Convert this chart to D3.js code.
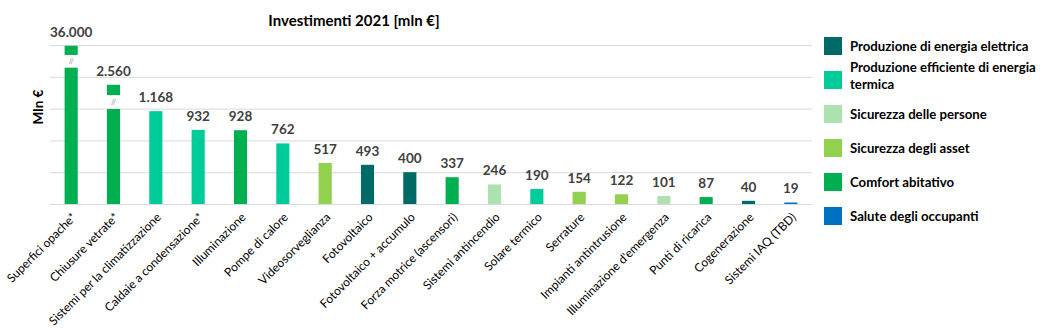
<!DOCTYPE html>
<html>
<head>
<meta charset="utf-8">
<script src="https://cdn.jsdelivr.net/npm/d3@7"></script>
<style>
  body { margin: 0; background: #fff; }
  svg text { font-family: Lato, "Open Sans", sans-serif; }
</style>
</head>
<body>
<svg width="1047" height="336"></svg>
<script>
// categories and values (mln €)
var categories = ["Superfici opache*", "Chiusure vetrate*", "Sistemi per la climatizzazione",
  "Caldaie a condensazione*", "Illuminazione", "Pompe di calore", "Videosorveglianza",
  "Fotovoltaico", "Fotovoltaico + accumulo", "Forza motrice (ascensori)", "Sistemi antincendio",
  "Solare termico", "Serrature", "Impianti antintrusione", "Illuminazione d'emergenza",
  "Punti di ricarica", "Cogenerazione", "Sistemi IAQ (TBD)"];
var values = [36000, 2560, 1168, 932, 928, 762, 517, 493, 400, 337, 246, 190, 154, 122, 101, 87, 40, 19];
var labels = ["36.000", "2.560", "1.168", "932", "928", "762", "517", "493", "400", "337", "246", "190", "154", "122", "101", "87", "40", "19"];
// group of each bar (index into groups)
var barGroup = [4, 4, 1, 1, 4, 1, 3, 0, 0, 4, 2, 1, 3, 3, 2, 4, 0, 5];
var groups = ["Produzione di energia elettrica", "Produzione efficiente di energia termica",
  "Sicurezza delle persone", "Sicurezza degli asset", "Comfort abitativo", "Salute degli occupanti"];
var groupColors = ["#006A66", "#00CC99", "#ADE2B0", "#92D050", "#00B050", "#0070C0"];
// broken bars: shown height of lower part, and the small top piece
var breakLower = {0: 1715, 1: 1195};
var breakPiece = {0: [1875, 1990], 1: [1370, 1500]};
var gridTicks = [0, 400, 800, 1200, 1600, 2000];

var svg = d3.select("svg"),
    margin = {top: 45, left: 50},
    width = 762,
    height = 159;
var g = svg.append("g").attr("transform", "translate(" + margin.left + "," + margin.top + ")");

var x = d3.scaleBand().domain(categories).range([0, width]).paddingInner(0.69).paddingOuter(0.345);
var y = d3.scaleLinear().domain([0, 2000]).range([height, 0]);

// gridlines
g.selectAll(".grid").data(gridTicks).enter().append("line")
    .attr("x1", 0).attr("x2", width)
    .attr("y1", function(d) { return y(d) + 0.5; })
    .attr("y2", function(d) { return y(d) + 0.5; })
    .attr("stroke", "#d9d9d9").attr("stroke-width", 1);

var bars = g.selectAll(".bar").data(categories).enter().append("g").attr("class", "bar");

bars.append("rect")
    .attr("x", function(d) { return x(d); })
    .attr("width", x.bandwidth())
    .attr("y", function(d, i) { return y(i in breakLower ? breakLower[i] : values[i]); })
    .attr("height", function(d, i) { return height - y(i in breakLower ? breakLower[i] : values[i]); })
    .attr("fill", function(d, i) { return groupColors[barGroup[i]]; });

// top pieces of broken bars
var broken = Object.keys(breakPiece).map(Number);
g.selectAll(".piece").data(broken).enter().append("rect")
    .attr("x", function(i) { return x(categories[i]); })
    .attr("width", x.bandwidth())
    .attr("y", function(i) { return y(breakPiece[i][1]); })
    .attr("height", function(i) { return y(breakPiece[i][0]) - y(breakPiece[i][1]); })
    .attr("fill", function(i) { return groupColors[barGroup[i]]; });

g.selectAll(".brk").data(broken).enter().append("text")
    .attr("x", function(i) { return x(categories[i]) + x.bandwidth() / 2; })
    .attr("y", function(i) { return (y(breakPiece[i][0]) + y(breakLower[i])) / 2 + 3; })
    .attr("text-anchor", "middle")
    .attr("font-family", "'DejaVu Sans', sans-serif")
    .attr("font-size", "7px")
    .attr("fill", "#7f7f7f")
    .text("//");

// value labels
g.selectAll(".val").data(categories).enter().append("text")
    .attr("x", function(d) { return x(d) + x.bandwidth() / 2; })
    .attr("y", function(d, i) { return y(i in breakPiece ? breakPiece[i][1] : values[i]) - 9; })
    .attr("text-anchor", "middle")
    .attr("font-size", "13.5px").attr("font-weight", "bold")
    .attr("fill", "#404040")
    .text(function(d, i) { return labels[i]; });

// x labels
g.selectAll(".xl").data(categories).enter().append("text")
    .attr("transform", function(d) {
      return "translate(" + (x(d) + x.bandwidth() / 2 + 6) + "," + (height + 14) + ") rotate(-45)";
    })
    .attr("text-anchor", "end")
    .attr("font-size", "12px")
    .attr("fill", "#000")
    .text(function(d) { return d; });

// title
svg.append("text")
    .attr("x", 354).attr("y", 26)
    .attr("text-anchor", "middle")
    .attr("font-size", "15px").attr("font-weight", "bold")
    .attr("fill", "#000")
    .text("Investimenti 2021 [mln €]");

// y title
svg.append("text")
    .attr("transform", "translate(43,107) rotate(-90)")
    .attr("text-anchor", "middle")
    .attr("font-size", "13.5px").attr("font-weight", "bold")
    .attr("fill", "#000")
    .text("Mln €");

// legend
var legend = svg.append("g").attr("transform", "translate(824,37)");
var item = legend.selectAll(".lg").data(groups).enter().append("g")
    .attr("transform", function(d, i) { return "translate(0," + (i * 34) + ")"; });
item.append("rect").attr("width", 18).attr("height", 18)
    .attr("fill", function(d, i) { return groupColors[i]; });
item.append("text")
    .attr("x", 26)
    .attr("font-size", "13.2px").attr("font-weight", "bold")
    .attr("fill", "#000")
    .each(function(d) {
      var t = d3.select(this);
      if (d === "Produzione efficiente di energia termica") {
        t.append("tspan").attr("x", 26).attr("y", 1).text("Produzione efficiente di energia");
        t.append("tspan").attr("x", 26).attr("y", 18).text("termica");
      } else {
        t.attr("y", 14).text(d);
      }
    });
</script>
</body>
</html>
